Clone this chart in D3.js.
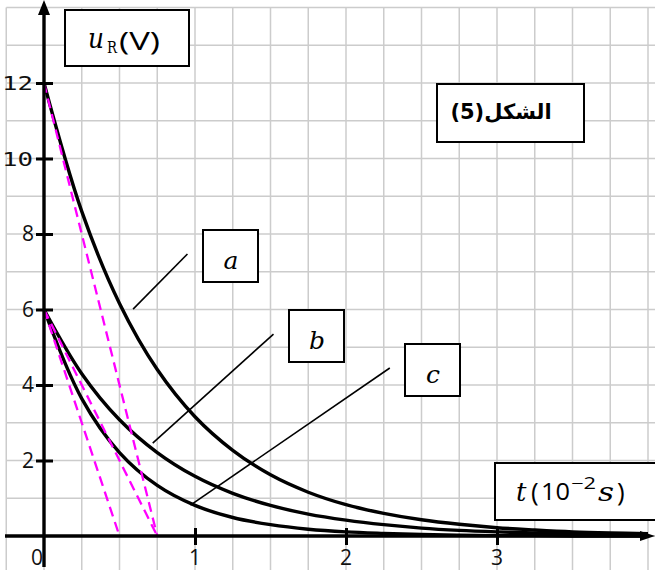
<!DOCTYPE html>
<html>
<head>
<meta charset="utf-8">
<script src="https://cdn.jsdelivr.net/npm/d3@7"></script>
<style>
  html, body { margin: 0; padding: 0; background: #fff; }
  svg { display: block; }
</style>
</head>
<body>
<svg id="chart" width="655" height="570"></svg>
<script>
// Time samples in units of 10^-2 s
const times = [0, 0.25, 0.5, 0.75, 1, 1.25, 1.5, 1.75, 2, 2.25, 2.5, 2.75, 3, 3.25, 3.5, 3.75, 4];
// Voltage across the resistor (V) for the three discharges
const curveA = [12, 8.60, 6.16, 4.41, 3.16, 2.27, 1.62, 1.16, 0.83, 0.60, 0.43, 0.31, 0.22, 0.16, 0.11, 0.08, 0.06];
const curveB = [6, 4.30, 3.08, 2.21, 1.58, 1.13, 0.81, 0.58, 0.42, 0.30, 0.21, 0.15, 0.11, 0.08, 0.06, 0.04, 0.03];
const curveC = [6, 3.64, 2.21, 1.34, 0.81, 0.49, 0.30, 0.18, 0.11, 0.07, 0.04, 0.02, 0.01, 0.01, 0.00, 0.00, 0.00];
// Tangents at the origin: [t0, u0, t1, u1]
const tangents = [[0, 12, 0.75, 0], [0, 6, 0.75, 0], [0, 6, 0.5, 0]];
// Curve labels and the points their leader lines join: [t0, u0, t1, u1]
const curveLabels = ["a", "b", "c"];
const leaders = [[0.59, 6.01, 0.95, 7.47], [0.72, 2.46, 1.52, 5.35], [0.97, 0.82, 2.29, 4.45]];
const yTicks = [2, 4, 6, 8, 10, 12];
const xTicks = [1, 2, 3];
const xTickLabels = ["0", "1", "2", "3"];

const svg = d3.select("#chart");
const W = 655, H = 570;

const x = d3.scaleLinear().domain([0, 4]).range([44, 648]);
const y = d3.scaleLinear().domain([0, 12]).range([536, 83]);

// Background grid, one line every 0.25 unit of time and every 1 V
const grid = svg.append("g").attr("stroke", "#cccccc").attr("stroke-width", 1.5);
const gx = d3.range(-1, 17).map(k => k * 0.25);
const gy = d3.range(-1, 15);
grid.selectAll("line.v").data(gx).join("line")
  .attr("x1", d => x(d)).attr("x2", d => x(d))
  .attr("y1", y(14)).attr("y2", H);
grid.selectAll("line.h").data(gy).join("line")
  .attr("x1", x(-0.25)).attr("x2", W)
  .attr("y1", d => y(d)).attr("y2", d => y(d));

// Discharge curves
const line = d3.line().x(d => x(d[0])).y(d => y(d[1])).curve(d3.curveCatmullRom.alpha(0.5));
[curveA, curveB, curveC].forEach(vals => {
  svg.append("path")
    .attr("d", line(times.map((t, i) => [t, vals[i]])))
    .attr("fill", "none").attr("stroke", "#000").attr("stroke-width", 3.4);
});

// Dashed tangents
svg.append("g").selectAll("line").data(tangents).join("line")
  .attr("x1", d => x(d[0])).attr("y1", d => y(d[1]))
  .attr("x2", d => x(d[2])).attr("y2", d => y(d[3]))
  .attr("stroke", "#ff00ff").attr("stroke-width", 2.3)
  .attr("stroke-dasharray", "10,6");

// Axes
const yAxis = d3.axisLeft(y).tickValues(yTicks).tickSizeInner(8).tickSizeOuter(0).tickFormat("");
const yg = svg.append("g").attr("transform", `translate(${x(0)},0)`).call(yAxis);
yg.select(".domain").remove();
yg.selectAll(".tick line").attr("x1", 9).attr("x2", -8).attr("stroke", "#000").attr("stroke-width", 3);

const xAxis = d3.axisBottom(x).tickValues(xTicks).tickSizeInner(9).tickSizeOuter(0).tickFormat("");
const xg = svg.append("g").attr("transform", `translate(0,${y(0)})`).call(xAxis);
xg.select(".domain").remove();
xg.selectAll(".tick line").attr("y1", -8).attr("y2", 9).attr("stroke", "#000").attr("stroke-width", 3);

svg.append("line").attr("x1", x(0)).attr("x2", x(0)).attr("y1", 567).attr("y2", 12)
  .attr("stroke", "#000").attr("stroke-width", 3.4);
svg.append("path").attr("d", `M${x(0)},0 L${x(0) - 6},15 L${x(0) + 6},15 Z`).attr("fill", "#000");
svg.append("line").attr("x1", 5).attr("x2", 642).attr("y1", y(0)).attr("y2", y(0))
  .attr("stroke", "#000").attr("stroke-width", 3.4);
svg.append("path").attr("d", `M655,${y(0)} L640,${y(0) - 5} L640,${y(0) + 5} Z`).attr("fill", "#000");

// Y tick labels
yTicks.forEach(v => {
  const big = v >= 10;
  const t = svg.append("text")
    .attr("x", big ? 2 : 34).attr("y", y(v) + 7)
    .attr("text-anchor", big ? "start" : "end")
    .attr("font-family", big ? "DejaVu Sans Mono" : "Open Sans")
    .attr("font-size", big ? 20 : 21)
    .attr("fill", "#111")
    .text(String(v));
  if (big) t.attr("textLength", 31).attr("lengthAdjust", "spacingAndGlyphs");
});
// X tick labels
xTickLabels.forEach((s, i) => {
  svg.append("text")
    .attr("x", i === 0 ? x(0) - 7 : x(i)).attr("y", 565)
    .attr("text-anchor", "middle")
    .attr("font-family", "Open Sans").attr("font-size", 21).attr("fill", "#111")
    .text(s);
});

// Leader lines
svg.append("g").selectAll("line").data(leaders).join("line")
  .attr("x1", d => x(d[0])).attr("y1", d => y(d[1]))
  .attr("x2", d => x(d[2])).attr("y2", d => y(d[3]))
  .attr("stroke", "#000").attr("stroke-width", 1.6);

function box(x0, y0, w, h) {
  svg.append("rect").attr("x", x0).attr("y", y0).attr("width", w).attr("height", h)
    .attr("fill", "#fff").attr("stroke", "#000").attr("stroke-width", 2);
}

// Curve label boxes
const labelBoxes = [[203, 230], [289, 310], [405, 344]];
curveLabels.forEach((s, i) => {
  const [bx, by] = labelBoxes[i];
  box(bx, by, 55, 52);
  svg.append("text").attr("x", bx + 28).attr("y", by + 39)
    .attr("text-anchor", "middle")
    .attr("font-family", "DejaVu Serif").attr("font-style", "italic").attr("font-size", 25)
    .text(s);
});

// Vertical axis title
box(65, 10, 124, 56);
svg.append("text").attr("x", 88).attr("y", 48)
  .attr("font-family", "DejaVu Serif").attr("font-style", "italic").attr("font-size", 28)
  .attr("textLength", 16).attr("lengthAdjust", "spacingAndGlyphs").text("u");
svg.append("text").attr("x", 107).attr("y", 53)
  .attr("font-family", "DejaVu Serif").attr("font-size", 17)
  .attr("textLength", 10).attr("lengthAdjust", "spacingAndGlyphs").text("R");
svg.append("text").attr("x", 119).attr("y", 50)
  .attr("font-family", "Open Sans").attr("font-size", 26)
  .attr("textLength", 41).attr("lengthAdjust", "spacingAndGlyphs").text("(V)");

// Horizontal axis title
box(495, 463, 170, 57);
const tx = (s, px, py, fam, size, italic, len) => {
  const t = svg.append("text").attr("x", px).attr("y", py)
    .attr("font-family", fam).attr("font-size", size).text(s);
  if (italic) t.attr("font-style", "italic");
  if (len) t.attr("textLength", len).attr("lengthAdjust", "spacingAndGlyphs");
};
tx("t", 516, 501, "DejaVu Serif", 26, true);
tx("(", 531, 501, "Open Sans", 26, false);
tx("10", 541, 500, "Open Sans", 24, false, 29);
tx("−2", 571, 489, "Open Sans", 16, false, 25);
tx("s", 598, 501, "DejaVu Serif", 26, true, 16);
tx(")", 617, 501, "Open Sans", 26, false);

// Figure number
box(437, 84, 147, 58);
svg.append("text").attr("x", 501).attr("y", 119)
  .attr("text-anchor", "middle")
  .attr("direction", "rtl").style("unicode-bidi", "embed")
  .attr("font-family", "DejaVu Sans").attr("font-weight", "bold").attr("font-size", 21)
  .text("الشكل(5)");
</script>
</body>
</html>
